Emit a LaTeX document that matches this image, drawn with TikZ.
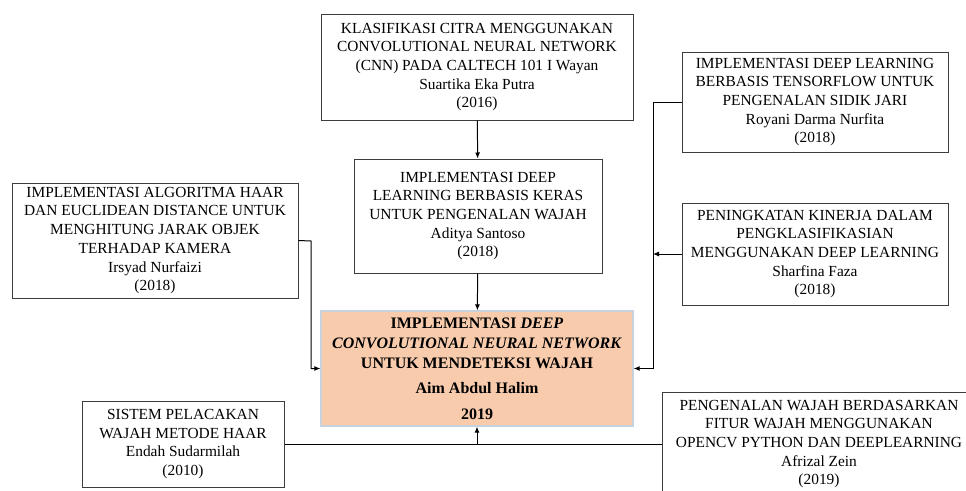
\documentclass[tikz,border=0pt]{standalone}
\usepackage{fontspec}
\setmainfont{Liberation Serif}
\usepackage{tikz}
\usetikzlibrary{positioning, calc, shapes.geometric, arrows.meta, arrows}
\tikzstyle{Arrow} = [
%arrow used for all links:
line width = 1pt,
-{Latex[length = 6pt, width = 5pt]}
]
\definecolor{peach}{RGB}{248,203,173}
\definecolor{edgeblue}{RGB}{200,210,222}
\definecolor{boxgray}{RGB}{60,60,60}

\begin{document}
\begin{tikzpicture}[
				x = 1pt, y = -1pt,
				paper/.style = {rectangle, draw = boxgray, line width = 1pt, align = center, inner sep = 2pt,
					font = \fontsize{15.4}{18.7}\selectfont},
				main/.style = {rectangle, draw = edgeblue, line width = 1.2pt, fill = peach, align = center,
					font = \fontsize{16}{20}\selectfont\bfseries},
			]
			\useasboundingbox (0,0) rectangle (966,490);
			\clip (0,0) rectangle (966,490);

			\node[paper, minimum width = 312, minimum height = 106](klas) at (477,67){KLASIFIKASI CITRA MENGGUNAKAN\\CONVOLUTIONAL NEURAL NETWORK\\(CNN) PADA CALTECH 101 I Wayan\\Suartika Eka Putra\\(2016)};
			\node[paper, minimum width = 248, minimum height = 114](keras) at (478,216){IMPLEMENTASI DEEP\\LEARNING BERBASIS KERAS\\UNTUK PENGENALAN WAJAH\\Aditya Santoso\\(2018)};
			\node[main, minimum width = 312, minimum height = 115](utama) at (477,368.5){IMPLEMENTASI \textit{DEEP}\\\textit{CONVOLUTIONAL NEURAL NETWORK}\\UNTUK MENDETEKSI WAJAH\\[5pt]Aim Abdul Halim\\[6pt]2019};
			\node[paper, minimum width = 286, minimum height = 115](haar) at (155,240.5){IMPLEMENTASI ALGORITMA HAAR\\DAN EUCLIDEAN DISTANCE UNTUK\\MENGHITUNG JARAK OBJEK\\TERHADAP KAMERA\\Irsyad Nurfaizi\\(2018)};
			\node[paper, minimum width = 266, minimum height = 100](tensor) at (815,102){IMPLEMENTASI DEEP LEARNING\\BERBASIS TENSORFLOW UNTUK\\PENGENALAN SIDIK JARI\\Royani Darma Nurfita\\(2018)};
			\node[paper, minimum width = 266, minimum height = 102](kinerja) at (815,254){PENINGKATAN KINERJA DALAM\\PENGKLASIFIKASIAN\\MENGGUNAKAN DEEP LEARNING\\Sharfina Faza\\(2018)};
			\node[paper, minimum width = 202, minimum height = 86](endah) at (183,444){SISTEM PELACAKAN\\WAJAH METODE HAAR\\Endah Sudarmilah\\(2010)};
			\node[paper, minimum width = 314, minimum height = 104](afrizal) at (819,444){PENGENALAN WAJAH BERDASARKAN\\FITUR WAJAH MENGGUNAKAN\\OPENCV PYTHON DAN DEEPLEARNING\\Afrizal Zein\\(2019)};

			\coordinate(jL) at (311,241);
			\coordinate(jR) at (653,102);

			\draw[Arrow](klas)--(keras);
			\draw[Arrow](keras)--(utama);
			\draw[Arrow](haar.east)--(jL)|-(utama.west);
			\draw[Arrow](tensor.west)--(jR)|-(utama.east);
			\draw[Arrow](kinerja.west)--(kinerja.west -| jR);
			\draw[line width = 1pt](endah.east)--(afrizal.west);
			\draw[Arrow](utama.south |- endah.east)--(utama.south);

		\end{tikzpicture}
\end{document}
